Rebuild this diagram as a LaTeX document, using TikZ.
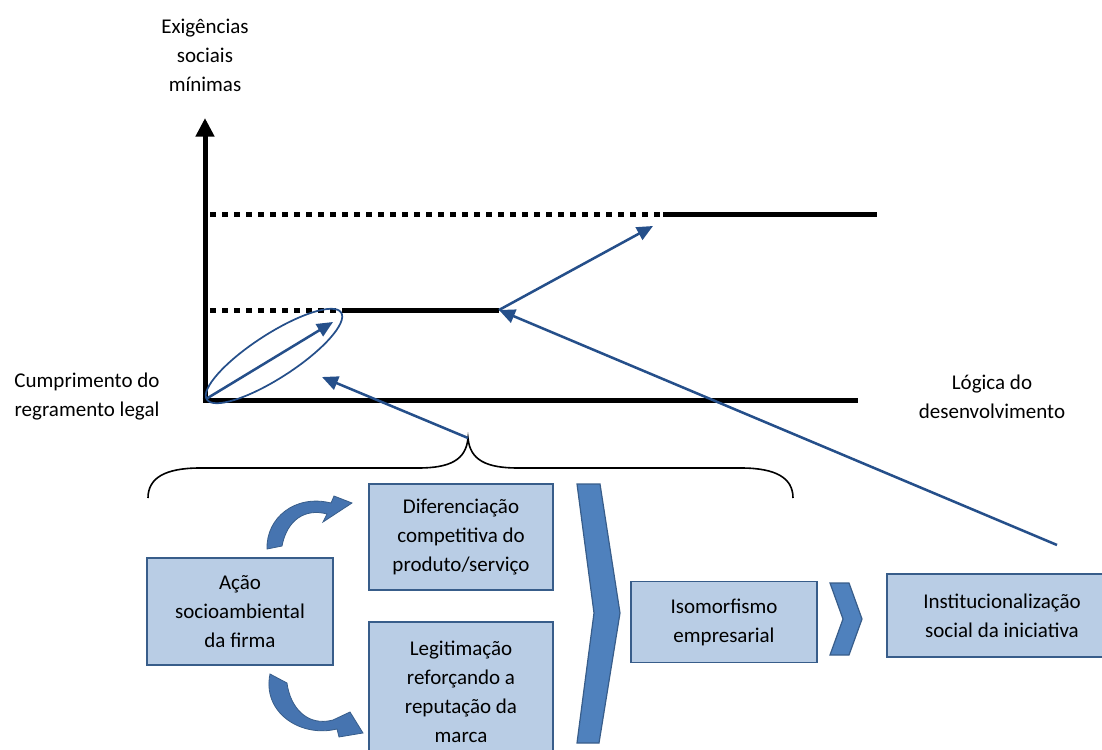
\documentclass[tikz,border=0pt]{standalone}
\usepackage{fontspec}
\setmainfont{Carlito}
\usetikzlibrary{arrows.meta}
\definecolor{boxfill}{HTML}{B9CDE5}
\definecolor{boxline}{HTML}{385D8A}
\definecolor{chevfill}{HTML}{4F81BD}
\definecolor{arrowblue}{HTML}{254F8A}
\definecolor{curvefill}{HTML}{4674B0}
\tikzset{
  txt/.style={align=center, font=\fontsize{15.75}{21.75}\selectfont, inner sep=0pt},
  box/.style={txt, draw=boxline, fill=boxfill, line width=1.1pt},
  axis/.style={line width=3.75pt, black},
  dotline/.style={line width=3.75pt, black, dash pattern=on 4.5pt off 4.5pt},
  solidline/.style={line width=3.75pt, black},
  bluearrow/.style={draw=arrowblue, line width=1.9pt, -{Triangle[length=12pt,width=10.5pt]}},
  chev/.style={fill=chevfill, draw=boxline, line width=0.9pt, line join=miter},
  curved/.style={fill=curvefill, draw=boxline, line width=0.6pt},
}
\begin{document}
\begin{tikzpicture}[x=0.75pt, y=-0.75pt]
\useasboundingbox (0,0) rectangle (1102,749);
\clip (0,0) rectangle (1102,749);

% labels
\node[txt] (ylab) at (205,55) {Exigências\\sociais\\mínimas};
\node[txt] (xlabl) at (87,397) {Cumprimento do\\regramento legal};
\node[txt] (xlabr) at (992,397) {Lógica do\\desenvolvimento};

% axes
\coordinate (O) at (205,400);
\coordinate (Ytop) at (205,118);
\coordinate (Xend) at (858,400);
\draw[axis, -{Triangle[length=14pt,width=13.5pt]}] (205,402.5) -- (Ytop);
\draw[axis] (202.5,400) -- (Xend);

% level lines
\coordinate (L1a) at (210,310);
\coordinate (L1b) at (346,310);
\coordinate (L1c) at (499,310);
\coordinate (L2a) at (210,214);
\coordinate (L2b) at (663,214);
\coordinate (L2c) at (877,214);
\draw[dotline] (L1a) -- (L1b);
\draw[solidline] (L1b) -- (L1c);
\draw[dotline] (L2a) -- (L2b);
\draw[solidline] (L2b) -- (L2c);

% ellipse and inner arrow
\draw[arrowblue, line width=1.3pt, rotate around={32.9:(274,356)}] (274,356) ellipse [x radius=80, y radius=22];
\coordinate (IA0) at (206,399);
\coordinate (IA1) at (333,322);
\draw[bluearrow] (IA0) -- (IA1);

% arrow to upper level
\coordinate (UA1) at (653,226);
\draw[bluearrow] (L1c) -- (UA1);

% brace
\coordinate (Btip) at (468,438);
\draw[black, line width=1.2pt] (148,498) .. controls (148,478) and (165,468) .. (200,468) -- (418,468) .. controls (450,468) and (466,460) .. (Btip) .. controls (470,460) and (486,468) .. (518,468) -- (741,468) .. controls (776,468) and (793,478) .. (793,498);

% arrow from brace
\coordinate (BA1) at (322,377);
\draw[bluearrow] (Btip) -- (BA1);

% long arrow
\coordinate (LA0) at (1057,545);
\draw[bluearrow] (LA0) -- (L1c);

% boxes
\node[box, minimum width=139.5pt, minimum height=80.25pt] (acao) at (240,611.5) {Ação\\socioambiental\\da firma};
\node[box, minimum width=138pt, minimum height=79.5pt] (dif) at (461,537) {Diferenciação\\competitiva do\\produto/serviço};
\node[box, minimum width=138pt, minimum height=105pt] (leg) at (461,692) {Legitimação\\reforçando a\\reputação da\\marca};
\node[box, minimum width=139.5pt, minimum height=60.75pt] (iso) at (724,622) {Isomorfismo\\empresarial};
\node[box, minimum width=172.5pt, minimum height=62.25pt] (inst) at (1002,615.5) {Institucionalização\\social da iniciativa};

% chevrons
\draw[chev] (577,484) -- (600,484) -- (620,613) -- (599,743) -- (577,743) -- (594,613) -- cycle;
\draw[chev] (830,583) -- (849,583) -- (862,619) -- (849,655) -- (830,655) -- (843,619) -- cycle;

% curved arrows
\draw[curved] (267,549) .. controls (266,518) and (295,494) .. (331,503) -- (334,496) -- (352,503) -- (323,522) -- (327,514) .. controls (305,508) and (287,520) .. (282,546) -- cycle;
\draw[curved] (270,674) .. controls (262,712) and (300,738) .. (337,729) -- (339,737) -- (363,733) -- (350,712) -- (333,720) .. controls (307,727) and (290,707) .. (287,683) -- cycle;
\end{tikzpicture}
\end{document}
